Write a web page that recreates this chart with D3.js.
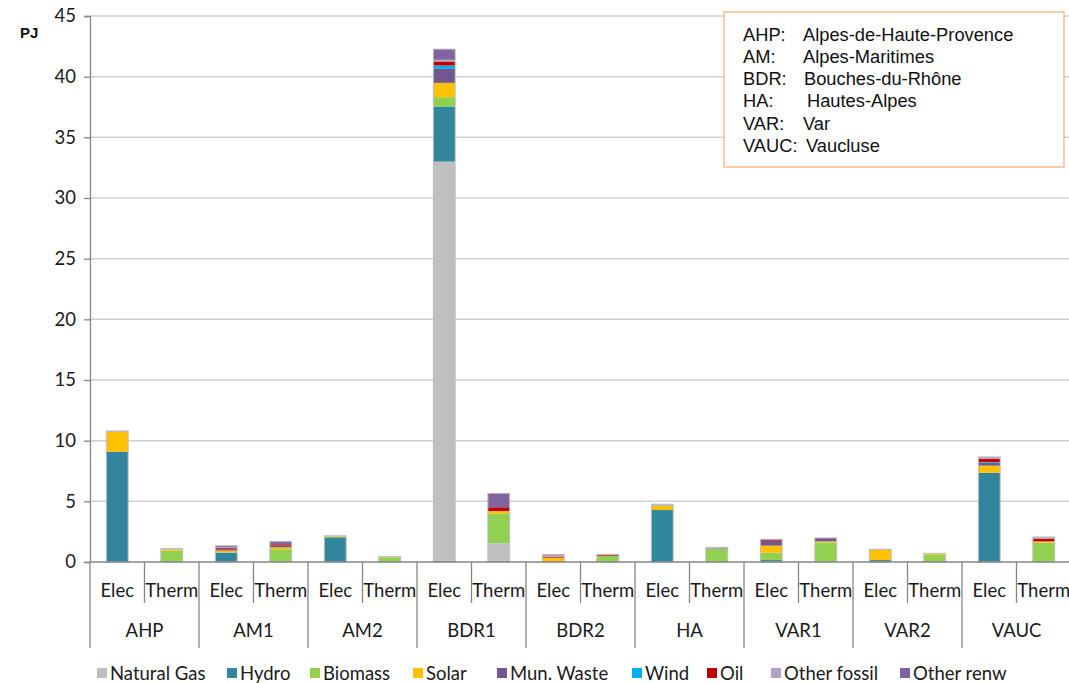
<!DOCTYPE html>
<html>
<head>
<meta charset="utf-8">
<script src="https://cdn.jsdelivr.net/npm/d3@7"></script>
<style>
  html, body { margin: 0; padding: 0; background: #fff; }
  svg { display: block; }
</style>
</head>
<body>
<svg id="chart" width="1069" height="683"></svg>
<script>
// ---------------- DATA ----------------
const groups = ["AHP", "AM1", "AM2", "BDR1", "BDR2", "HA", "VAR1", "VAR2", "VAUC"];
const types = ["Elec", "Therm"];
const seriesNames = ["Natural Gas", "Hydro", "Biomass", "Solar", "Mun. Waste", "Wind", "Oil", "Other fossil", "Other renw"];
const seriesColors = ["#BFBFBF", "#31859C", "#92D050", "#FFC000", "#72578F", "#00B0F0", "#C00000", "#B3A2C7", "#8064A2"];
const yTicks = [0, 5, 10, 15, 20, 25, 30, 35, 40, 45];
// values per bar: AHP-Elec, AHP-Therm, AM1-Elec, AM1-Therm, ... VAUC-Therm
const naturalGas  = [0, 0, 0, 0, 0, 0, 33.0, 1.54, 0, 0, 0, 0, 0, 0, 0, 0, 0, 0];
const hydro       = [9.09, 0, 0.77, 0, 2.03, 0, 4.54, 0, 0, 0, 4.29, 0, 0.16, 0, 0.16, 0, 7.36, 0];
const biomass     = [0, 0.93, 0.03, 1.05, 0.04, 0.38, 0.77, 2.47, 0, 0.49, 0, 1.07, 0.61, 1.6, 0, 0.6, 0, 1.6];
const solar       = [1.65, 0.1, 0.14, 0.16, 0.06, 0.03, 1.18, 0.19, 0.36, 0, 0.35, 0, 0.58, 0.1, 0.83, 0.11, 0.58, 0.1];
const munWaste    = [0, 0, 0.12, 0.15, 0, 0, 1.15, 0, 0, 0, 0, 0, 0.41, 0.28, 0, 0, 0.25, 0];
const wind        = [0, 0, 0, 0, 0, 0, 0.28, 0, 0, 0, 0, 0, 0, 0, 0, 0, 0.05, 0];
const oil         = [0, 0, 0.08, 0.1, 0, 0, 0.33, 0.31, 0.08, 0.07, 0, 0, 0.11, 0, 0, 0, 0.28, 0.22];
const otherFossil = [0.06, 0.08, 0.1, 0, 0.03, 0.04, 0.14, 0, 0.1, 0.07, 0.12, 0.14, 0, 0, 0.06, 0, 0.14, 0.14];
const otherRenw   = [0, 0, 0.1, 0.24, 0, 0, 0.88, 1.15, 0.09, 0, 0, 0, 0, 0, 0, 0, 0, 0];
const seriesValues = [naturalGas, hydro, biomass, solar, munWaste, wind, oil, otherFossil, otherRenw];
const unitLabel = "PJ";
const noteKeys = ["AHP:", "AM:", "BDR:", "HA:", "VAR:", "VAUC:"];
const noteNames = ["Alpes-de-Haute-Provence", "Alpes-Maritimes", "Bouches-du-Rhône", "Hautes-Alpes", "Var", "Vaucluse"];

// ---------------- BUILD ----------------
const bars = [];
groups.forEach(g => types.forEach(t => bars.push({ id: g + "|" + t, group: g, type: t })));
bars.forEach((b, i) => seriesNames.forEach((s, j) => b[s] = seriesValues[j][i]));

const svg = d3.select("#chart");
const pLeft = 90, pRight = 1071, pTop = 16, pBottom = 562;

const x = d3.scaleBand().domain(bars.map(d => d.id)).range([pLeft, pRight]).paddingInner(0.6).paddingOuter(0.3);
const y = d3.scaleLinear().domain([0, 45]).range([pBottom, pTop]);

const catFont = "Lato, 'Open Sans', sans-serif";
const textCol = "#1a1a1a";

// gridlines
svg.append("g").selectAll("line").data(yTicks.filter(v => v > 0)).join("line")
  .attr("x1", pLeft).attr("x2", pRight)
  .attr("y1", d => y(d)).attr("y2", d => y(d))
  .attr("stroke", "#D0D0D0").attr("stroke-width", 1.5);

// y axis
const yAxis = svg.append("g").attr("transform", `translate(${pLeft},0)`)
  .call(d3.axisLeft(y).tickValues(yTicks).tickSize(6).tickPadding(8));
yAxis.select(".domain").attr("stroke", "#868686").attr("stroke-width", 1.3);
yAxis.selectAll(".tick line").attr("stroke", "#868686").attr("stroke-width", 1.3);
yAxis.selectAll(".tick text").attr("font-family", catFont).attr("font-size", 18.5).attr("fill", textCol);

svg.append("text").attr("x", 20).attr("y", 38).text(unitLabel)
  .attr("font-family", "'Liberation Sans', Arial, sans-serif").attr("font-weight", "bold").attr("font-size", 15).attr("fill", "#111");

// stacked bars
const stack = d3.stack().keys(seriesNames);
const stacked = stack(bars);
svg.append("g").selectAll("g").data(stacked).join("g")
  .attr("fill", (d, i) => seriesColors[i])
  .selectAll("rect").data(d => d.filter(p => p[1] - p[0] > 0)).join("rect")
  .attr("x", d => x(d.data.id))
  .attr("width", x.bandwidth())
  .attr("y", d => y(d[1]))
  .attr("height", d => y(d[0]) - y(d[1]));
// bar outlines
svg.append("g").selectAll("rect").data(bars).join("rect")
  .attr("x", d => x(d.id)).attr("width", x.bandwidth())
  .attr("y", d => y(d3.sum(seriesNames, s => d[s])))
  .attr("height", d => pBottom - y(d3.sum(seriesNames, s => d[s])))
  .attr("fill", "none").attr("stroke", "#BDBDBD").attr("stroke-width", 1);

// category axis
const step = x.step();
const xAxisG = svg.append("g");
xAxisG.append("line").attr("x1", pLeft).attr("x2", pRight).attr("y1", pBottom).attr("y2", pBottom)
  .attr("stroke", "#868686").attr("stroke-width", 1.3);
bars.forEach((b, i) => {
  const xs = x(b.id) - step * x.paddingOuter();
  const isGroupStart = i % 2 === 0;
  xAxisG.append("line").attr("x1", xs).attr("x2", xs).attr("y1", pBottom)
    .attr("y2", isGroupStart ? 648 : 603).attr("stroke", "#868686").attr("stroke-width", 1.3);
});
xAxisG.append("line").attr("x1", pRight - 0.5).attr("x2", pRight - 0.5).attr("y1", pBottom).attr("y2", 648)
  .attr("stroke", "#868686").attr("stroke-width", 1.3);
xAxisG.selectAll("text.type").data(bars).join("text").attr("class", "type")
  .attr("x", d => x(d.id) + x.bandwidth() / 2).attr("y", 590)
  .attr("text-anchor", "middle").attr("dominant-baseline", "central")
  .attr("font-family", catFont).attr("font-size", 18.5).attr("fill", textCol)
  .text(d => d.type);
xAxisG.selectAll("text.grp").data(groups).join("text").attr("class", "grp")
  .attr("x", (g, i) => pLeft + step * (2 * i + 1)).attr("y", 630)
  .attr("text-anchor", "middle").attr("dominant-baseline", "central")
  .attr("font-family", catFont).attr("font-size", 18.5).attr("fill", textCol)
  .text(g => g);

// legend
const legendX = [97, 227, 310, 413, 497, 632, 707, 771, 900];
const lg = svg.append("g");
seriesNames.forEach((s, i) => {
  lg.append("rect").attr("x", legendX[i]).attr("y", 668).attr("width", 10).attr("height", 10).attr("fill", seriesColors[i]);
  lg.append("text").attr("x", legendX[i] + 13).attr("y", 673).attr("dominant-baseline", "central")
    .attr("font-family", catFont).attr("font-size", 18.5).attr("fill", textCol).text(s);
});

// note box
const nb = svg.append("g");
nb.append("rect").attr("x", 724).attr("y", 12).attr("width", 340).attr("height", 155)
  .attr("fill", "#fff").attr("stroke", "#FAB27A").attr("stroke-width", 1.3);
const noteX2 = [803, 803, 804, 807, 803, 806];
noteKeys.forEach((k, i) => {
  const yy = 34 + i * 22.3;
  nb.append("text").attr("x", 743).attr("y", yy).attr("dominant-baseline", "central")
    .attr("font-family", "'Liberation Sans', Arial, sans-serif").attr("font-size", 18.3).attr("fill", "#111").text(k);
  nb.append("text").attr("x", noteX2[i]).attr("y", yy).attr("dominant-baseline", "central")
    .attr("font-family", "'Liberation Sans', Arial, sans-serif").attr("font-size", 18.3).attr("fill", "#111").text(noteNames[i]);
});
</script>
</body>
</html>
